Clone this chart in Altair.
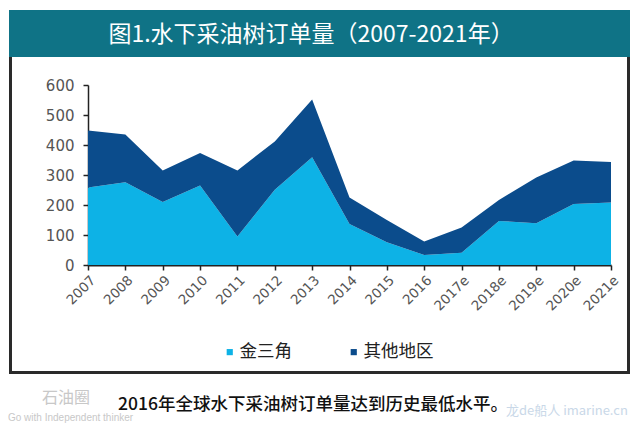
import altair as alt
import pandas as pd

years = ["2007", "2008", "2009", "2010", "2011", "2012", "2013", "2014",
         "2015", "2016", "2017e", "2018e", "2019e", "2020e", "2021e"]
golden_triangle = [258, 276, 210, 265, 95, 251, 359, 137, 76, 33, 41, 147, 139, 203, 208]
other_regions = [190, 159, 105, 108, 220, 161, 193, 88, 74, 45, 84, 70, 153, 145, 135]
series_names = ["金三角", "其他地区"]
series_colors = ["#0db2e6", "#0b4c8c"]

title_text = "图1.水下采油树订单量（2007-2021年）"
caption_text = "2016年全球水下采油树订单量达到历史最低水平。"

rows = []
for i, y in enumerate(years):
    rows.append({"year": y, "series": series_names[0], "value": golden_triangle[i], "ord": 0})
    rows.append({"year": y, "series": series_names[1], "value": other_regions[i], "ord": 1})
df = pd.DataFrame(rows)
dummy = pd.DataFrame({"a": [0]})

CJK = "Noto Sans CJK SC"
NUM = "DejaVu Sans"

area = alt.Chart(df).mark_area(opacity=1).encode(
    x=alt.X("year:N", sort=years, title=None,
            scale=alt.Scale(padding=0),
            axis=alt.Axis(labelAngle=-45, labelFont=NUM, labelFontSize=13.5,
                          labelColor="#555555", domainColor="#222222", domainWidth=2,
                          tickColor="#222222", tickWidth=1.5, tickSize=5,
                          labelPadding=3, grid=False)),
    y=alt.Y("value:Q", stack="zero", title=None,
            scale=alt.Scale(domain=[0, 600], nice=False),
            axis=alt.Axis(values=[0, 100, 200, 300, 400, 500, 600],
                          labelFont=NUM, labelFontSize=15, labelColor="#555555",
                          domainColor="#222222", domainWidth=1.5,
                          tickColor="#222222", tickWidth=1.5, tickSize=5,
                          labelPadding=9, grid=False)),
    color=alt.Color("series:N", sort=series_names,
                    scale=alt.Scale(domain=series_names, range=series_colors),
                    legend=alt.Legend(orient="none", legendX=133, legendY=258,
                                      direction="horizontal", title=None,
                                      symbolType="square", symbolSize=38,
                                      symbolStrokeWidth=0,
                                      labelFont=CJK, labelFontSize=17.5,
                                      labelColor="#222222", labelOffset=1,
                                      columnPadding=53)),
    order=alt.Order("ord:Q"),
)

frame = alt.Chart(dummy).mark_rect(fillOpacity=0, stroke="#2a2a2a", strokeWidth=3).encode(
    x=alt.value(-77.5), x2=alt.value(540.5), y=alt.value(-40), y2=alt.value(287.5))

band = alt.Chart(dummy).mark_rect(color="#0f7386").encode(
    x=alt.value(-79), x2=alt.value(542), y=alt.value(-75), y2=alt.value(-28))

title = alt.Chart(dummy).mark_text(text=title_text, font=CJK, fontSize=23,
                                   color="white", align="center", baseline="middle").encode(
    x=alt.value(223), y=alt.value(-50))

caption = alt.Chart(dummy).mark_text(text=caption_text, font=CJK, fontSize=17.5,
                                     fontWeight=500,
                                     color="#111111", align="left", baseline="middle").encode(
    x=alt.value(30), y=alt.value(320))

wm1 = alt.Chart(dummy).mark_text(text="石油圈", font=CJK, fontSize=16,
                                 color="#c8c8c8", align="left", baseline="middle").encode(
    x=alt.value(-46), y=alt.value(313))
wm2 = alt.Chart(dummy).mark_text(text="Go with Independent thinker", font="Liberation Sans",
                                 fontSize=10, color="#c8c8c8", align="left", baseline="middle").encode(
    x=alt.value(-80), y=alt.value(333))
wm3 = alt.Chart(dummy).mark_text(text="龙de船人 imarine.cn", font=CJK, fontSize=13,
                                 color="#c9d8e8", align="left", baseline="middle").encode(
    x=alt.value(418), y=alt.value(326))

chart = alt.layer(frame, band, title, area, caption, wm1, wm2, wm3).properties(
    width=523, height=180,
    autosize=alt.AutoSizeParams(type="none"),
    padding={"left": 88, "top": 85, "right": 29, "bottom": 163},
    background="white",
).configure_view(stroke=None)

chart.save("out.html", embed_options={"renderer": "svg", "actions": False})
